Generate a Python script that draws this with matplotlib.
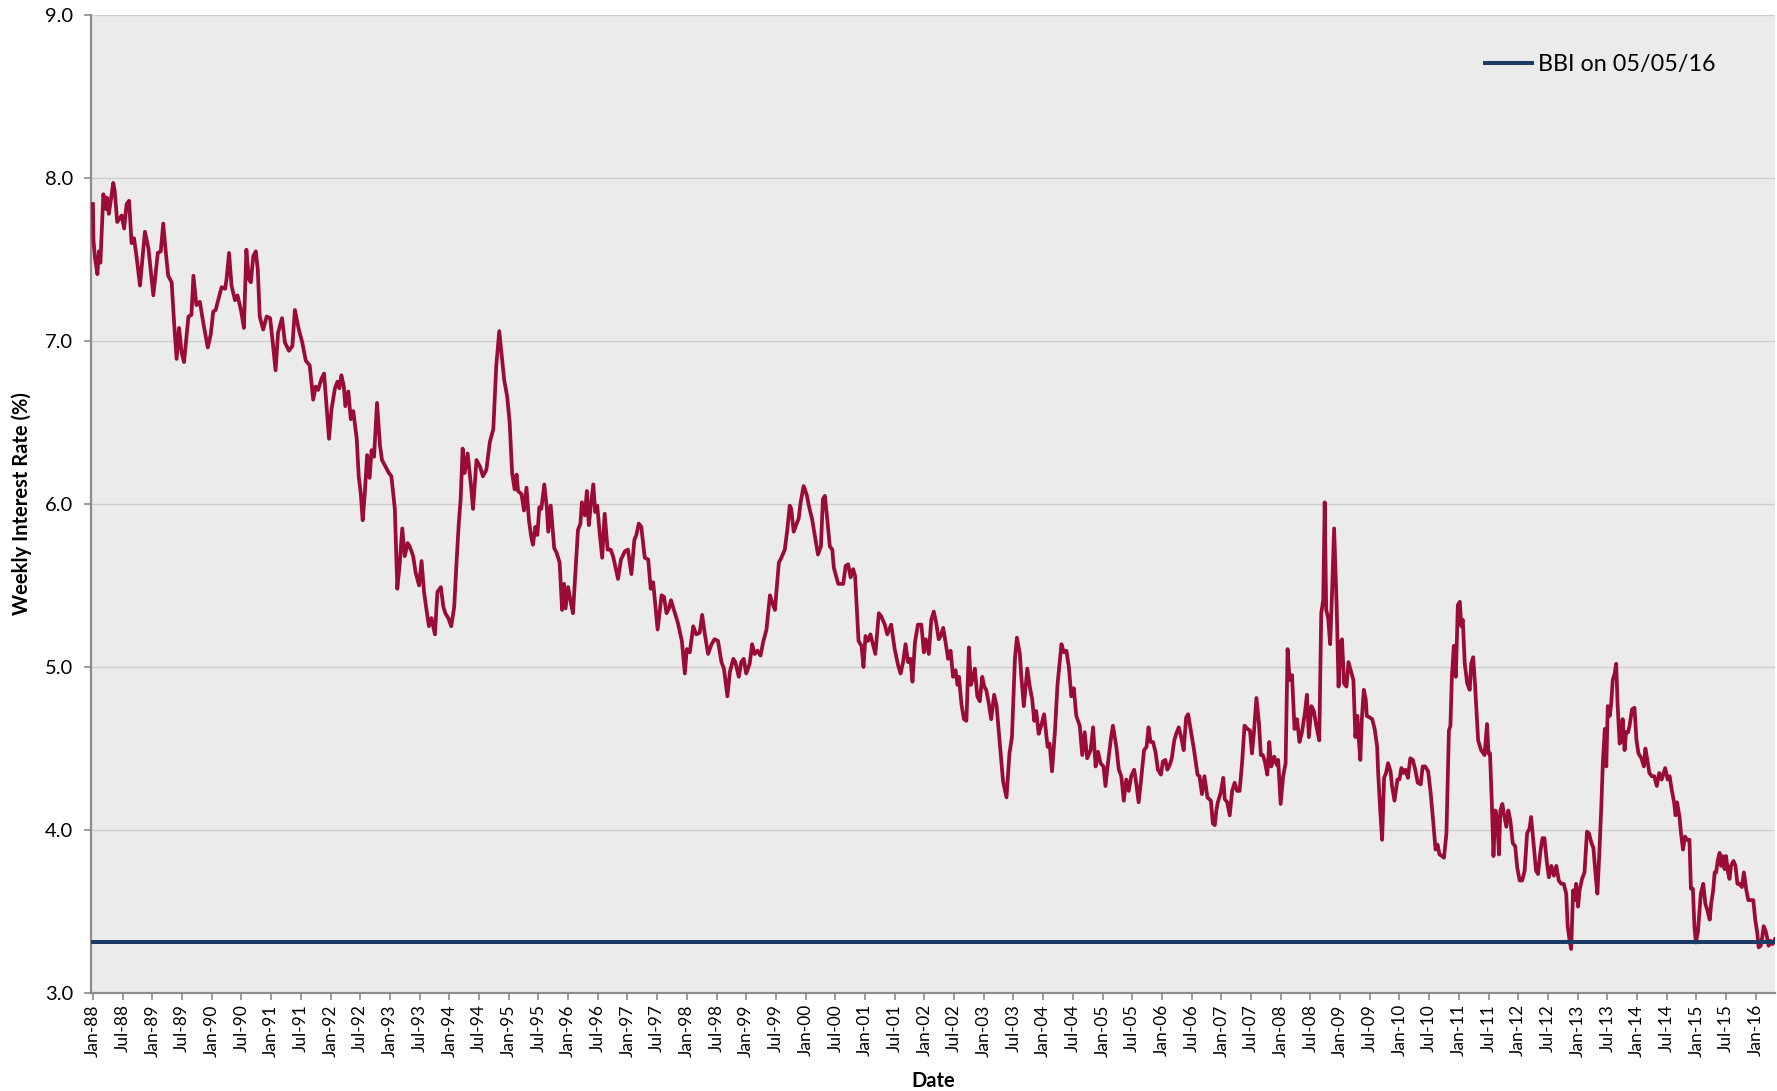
import numpy as np
import matplotlib
matplotlib.use('Agg')
import matplotlib.pyplot as plt

# weekly interest rate as (months since Jan-88, rate %)
rates_1988_1991 = [
	(0.0, 7.84), (0.1, 7.62), (0.4, 7.51), (0.9, 7.41), (1.2, 7.55), (1.5, 7.48), (2.1, 7.90),
	(2.6, 7.81), (2.8, 7.88), (3.2, 7.78), (3.6, 7.86), (4.1, 7.97), (4.4, 7.92), (4.9, 7.73),
	(5.8, 7.77), (6.3, 7.69), (6.8, 7.84), (7.3, 7.86), (7.8, 7.60), (8.3, 7.63), (8.8, 7.52),
	(9.5, 7.34), (10.5, 7.67), (11.2, 7.57), (12.2, 7.28), (13.1, 7.54), (13.7, 7.55), (14.2, 7.72),
	(14.7, 7.55), (15.2, 7.40), (15.9, 7.36), (16.4, 7.11), (16.9, 6.89), (17.4, 7.08), (17.9, 6.93),
	(18.4, 6.87), (19.3, 7.15), (19.9, 7.16), (20.3, 7.40), (20.9, 7.22), (21.6, 7.24), (22.3, 7.11),
	(23.2, 6.96), (23.8, 7.04), (24.3, 7.18), (24.8, 7.19), (25.3, 7.25), (26.0, 7.33), (26.7, 7.32),
	(27.0, 7.38), (27.5, 7.54), (28.0, 7.34), (28.7, 7.25), (29.2, 7.28), (29.9, 7.19), (30.5, 7.08),
	(31.0, 7.56), (31.5, 7.38), (31.9, 7.36), (32.4, 7.52), (32.9, 7.55), (33.3, 7.44), (33.7, 7.15),
	(34.4, 7.07), (35.1, 7.15), (35.8, 7.14), (36.4, 6.97), (36.9, 6.82), (37.4, 7.05), (38.2, 7.14),
	(38.8, 6.99), (39.6, 6.94), (40.3, 6.97), (40.8, 7.19), (41.6, 7.07), (42.3, 6.99), (43.0, 6.88),
	(43.8, 6.85),
]
rates_1991_1995 = [
	(44.5, 6.64), (45.0, 6.72), (45.5, 6.70), (46.2, 6.77), (46.7, 6.80), (47.2, 6.60), (47.7, 6.40),
	(48.2, 6.58), (48.9, 6.71), (49.4, 6.75), (49.8, 6.71), (50.2, 6.79), (50.7, 6.72), (51.0, 6.60),
	(51.6, 6.69), (52.1, 6.52), (52.6, 6.57), (53.3, 6.40), (53.7, 6.17), (54.1, 6.07), (54.5, 5.90),
	(54.9, 6.05), (55.4, 6.30), (55.9, 6.16), (56.3, 6.33), (56.8, 6.29), (57.4, 6.62), (58.0, 6.36),
	(58.4, 6.27), (59.1, 6.23), (59.8, 6.19), (60.3, 6.17), (61.0, 5.97), (61.5, 5.48), (62.0, 5.64),
	(62.5, 5.85), (63.0, 5.68), (63.6, 5.76), (64.0, 5.74), (64.7, 5.68), (65.2, 5.58), (65.9, 5.50),
	(66.4, 5.65), (66.9, 5.46), (67.4, 5.35), (67.9, 5.25), (68.4, 5.30), (69.1, 5.20), (69.6, 5.46),
	(70.3, 5.49), (70.8, 5.37), (71.2, 5.33), (71.8, 5.30), (72.4, 5.25), (73.0, 5.37), (73.5, 5.66),
	(73.9, 5.87), (74.3, 6.03), (74.7, 6.34), (75.1, 6.19), (75.7, 6.31), (76.4, 6.11), (76.8, 5.97),
	(77.5, 6.27), (78.2, 6.23), (78.8, 6.17), (79.5, 6.21), (80.2, 6.38), (80.9, 6.46), (81.5, 6.85),
	(82.1, 7.06), (82.6, 6.91), (83.1, 6.76), (83.7, 6.66), (84.2, 6.50), (84.7, 6.19), (85.2, 6.09),
]
rates_1995_1998 = [
	(85.6, 6.18), (85.9, 6.08), (86.6, 6.06), (87.1, 5.96), (87.6, 6.10), (88.1, 5.90), (88.5, 5.81),
	(88.9, 5.75), (89.4, 5.86), (89.8, 5.81), (90.2, 5.98), (90.6, 5.97), (91.2, 6.12), (91.7, 5.98),
	(92.0, 5.83), (92.5, 5.99), (93.2, 5.73), (93.7, 5.70), (94.3, 5.64), (94.8, 5.35), (95.2, 5.51),
	(95.5, 5.36), (96.0, 5.49), (96.6, 5.39), (97.0, 5.33), (97.5, 5.58), (98.0, 5.84), (98.5, 5.88),
	(98.8, 6.01), (99.4, 5.93), (99.8, 6.08), (100.2, 5.87), (100.6, 5.99), (101.1, 6.12), (101.5, 5.95),
	(101.9, 5.99), (102.4, 5.82), (102.9, 5.67), (103.4, 5.94), (104.0, 5.72), (104.6, 5.72), (105.1, 5.68),
	(106.1, 5.54), (106.7, 5.66), (107.5, 5.71), (108.1, 5.72), (108.8, 5.57), (109.4, 5.78), (109.8, 5.81),
	(110.3, 5.88), (110.8, 5.86), (111.5, 5.67), (112.2, 5.66), (112.7, 5.48), (113.2, 5.52), (114.1, 5.23),
	(114.9, 5.44), (115.4, 5.43), (115.9, 5.33), (116.4, 5.36), (116.8, 5.41), (117.4, 5.35), (118.2, 5.27),
	(119.0, 5.16), (119.6, 4.96), (120.0, 5.11), (120.6, 5.09), (121.3, 5.25), (121.9, 5.20), (122.6, 5.21),
	(123.1, 5.32), (123.6, 5.21), (124.3, 5.08), (125.0, 5.14), (125.6, 5.17),
]
rates_1998_2002 = [
	(126.3, 5.16), (127.0, 5.03), (127.5, 4.99), (128.2, 4.82), (128.7, 4.97), (129.4, 5.05), (129.8, 5.03),
	(130.5, 4.94), (131.0, 5.03), (131.5, 5.05), (132.0, 4.96), (132.7, 5.02), (133.2, 5.14), (133.7, 5.08),
	(134.3, 5.10), (134.9, 5.07), (135.4, 5.15), (136.1, 5.23), (136.8, 5.44), (137.2, 5.40), (137.8, 5.35),
	(138.6, 5.64), (139.1, 5.67), (139.8, 5.72), (140.3, 5.84), (140.8, 5.99), (141.1, 5.97), (141.6, 5.83),
	(142.2, 5.88), (142.6, 5.91), (143.0, 6.01), (143.6, 6.11), (144.2, 6.06), (144.8, 5.97), (145.3, 5.91),
	(145.9, 5.80), (146.5, 5.69), (147.1, 5.74), (147.5, 6.03), (147.9, 6.05), (148.4, 5.90), (148.9, 5.74),
	(149.4, 5.72), (149.7, 5.61), (150.6, 5.51), (151.6, 5.51), (152.1, 5.62), (152.6, 5.63), (153.1, 5.55),
	(153.6, 5.60), (154.0, 5.56), (154.7, 5.16), (155.3, 5.13), (155.7, 5.00), (156.1, 5.19), (156.6, 5.16),
	(157.1, 5.20), (157.6, 5.14), (158.1, 5.08), (158.8, 5.33), (159.3, 5.31), (160.0, 5.26), (160.5, 5.20),
	(161.3, 5.26), (162.0, 5.11), (162.7, 5.01), (163.2, 4.96), (163.7, 5.03), (164.2, 5.14), (164.7, 5.03),
	(165.2, 5.05), (165.6, 4.91), (166.1, 5.15), (166.7, 5.26), (167.4, 5.26), (167.9, 5.09), (168.3, 5.17),
	(168.9, 5.08), (169.4, 5.29), (169.9, 5.34),
]
rates_2002_2005 = [
	(170.4, 5.27), (170.9, 5.17), (171.3, 5.19), (171.8, 5.24), (172.3, 5.15), (172.8, 5.05), (173.3, 5.10),
	(173.8, 4.94), (174.3, 4.98), (174.7, 4.89), (175.0, 4.94), (175.5, 4.77), (176.0, 4.68), (176.5, 4.67),
	(177.0, 5.12), (177.4, 4.89), (177.8, 4.93), (178.2, 4.99), (178.7, 4.82), (179.2, 4.79), (179.7, 4.94),
	(180.1, 4.88), (180.5, 4.86), (181.0, 4.78), (181.5, 4.68), (182.1, 4.83), (182.6, 4.76), (183.2, 4.55),
	(183.9, 4.30), (184.6, 4.20), (185.2, 4.47), (185.7, 4.57), (186.3, 5.05), (186.7, 5.18), (187.3, 5.08),
	(187.6, 4.94), (188.1, 4.76), (188.8, 4.99), (189.3, 4.88), (189.8, 4.80), (190.2, 4.67), (190.6, 4.73),
	(191.1, 4.59), (191.6, 4.64), (192.2, 4.71), (192.9, 4.51), (193.3, 4.53), (193.8, 4.36), (194.4, 4.61),
	(194.9, 4.89), (195.7, 5.14), (196.2, 5.09), (196.7, 5.10), (197.2, 5.00), (197.7, 4.82), (198.2, 4.87),
	(198.7, 4.70), (199.4, 4.64), (199.9, 4.46), (200.4, 4.60), (200.9, 4.44), (201.6, 4.49), (202.1, 4.63),
	(202.6, 4.39), (203.1, 4.48), (203.6, 4.41), (204.2, 4.39), (204.6, 4.27), (205.1, 4.41), (205.7, 4.56),
	(206.1, 4.64), (206.8, 4.51), (207.3, 4.37), (207.8, 4.33), (208.3, 4.18), (208.8, 4.31), (209.3, 4.24),
	(209.8, 4.33), (210.4, 4.37), (210.8, 4.29), (211.3, 4.17), (211.8, 4.31), (212.4, 4.49),
]
rates_2005_2009 = [
	(212.9, 4.51), (213.3, 4.63), (213.7, 4.54), (214.2, 4.54), (214.7, 4.48), (215.2, 4.37), (215.8, 4.34),
	(216.2, 4.42), (216.7, 4.43), (217.1, 4.37), (217.6, 4.40), (218.0, 4.44), (218.5, 4.55), (218.9, 4.59),
	(219.4, 4.63), (219.9, 4.57), (220.4, 4.49), (220.9, 4.69), (221.3, 4.71), (221.9, 4.60), (222.5, 4.49),
	(223.2, 4.34), (223.6, 4.33), (224.1, 4.22), (224.6, 4.33), (225.2, 4.20), (225.9, 4.18), (226.3, 4.04),
	(226.7, 4.03), (227.0, 4.12), (227.3, 4.17), (227.9, 4.23), (228.4, 4.32), (228.7, 4.19), (229.2, 4.17),
	(229.7, 4.09), (230.2, 4.24), (230.7, 4.29), (231.2, 4.24), (231.7, 4.24), (232.2, 4.41), (232.7, 4.64),
	(233.3, 4.62), (233.8, 4.61), (234.2, 4.47), (234.6, 4.60), (235.1, 4.81), (235.6, 4.66), (236.0, 4.46),
	(236.4, 4.46), (236.8, 4.42), (237.3, 4.34), (237.7, 4.54), (238.1, 4.39), (238.7, 4.45), (239.2, 4.40),
	(239.5, 4.43), (240.0, 4.16), (240.5, 4.33), (241.0, 4.41), (241.4, 5.11), (241.8, 4.92), (242.3, 4.95),
	(242.8, 4.62), (243.3, 4.68), (243.8, 4.54), (244.3, 4.60), (244.9, 4.72), (245.3, 4.83), (245.7, 4.57),
	(246.2, 4.76), (246.7, 4.73), (247.2, 4.64), (247.8, 4.55), (248.2, 5.33), (248.6, 5.41), (248.9, 6.01),
	(249.2, 5.35), (249.6, 5.30), (250.0, 5.14), (250.4, 5.47), (250.8, 5.85), (251.3, 5.39), (251.7, 4.88),
	(252.1, 5.15), (252.4, 5.17), (252.8, 4.90), (253.3, 4.88), (253.7, 5.03),
]
rates_2009_2012 = [
	(254.7, 4.92), (255.1, 4.57), (255.5, 4.70), (255.8, 4.55), (256.1, 4.43), (256.4, 4.68), (256.8, 4.86),
	(257.2, 4.80), (257.4, 4.70), (258.0, 4.69), (258.5, 4.68), (259.0, 4.62), (259.5, 4.51), (259.7, 4.35),
	(260.2, 4.08), (260.5, 3.94), (260.9, 4.32), (261.3, 4.35), (261.7, 4.41), (262.2, 4.36), (262.5, 4.27),
	(263.0, 4.18), (263.6, 4.31), (264.0, 4.31), (264.4, 4.38), (264.8, 4.35), (265.2, 4.37), (265.7, 4.32),
	(266.2, 4.44), (266.7, 4.43), (267.2, 4.37), (267.7, 4.29), (268.3, 4.28), (268.7, 4.39), (269.2, 4.39),
	(269.8, 4.36), (270.3, 4.23), (270.8, 4.06), (271.3, 3.88), (271.7, 3.91), (272.1, 3.85), (272.6, 3.84),
	(273.0, 3.83), (273.5, 3.98), (274.0, 4.61), (274.3, 4.64), (274.6, 4.94), (275.0, 5.13), (275.4, 4.94),
	(275.8, 5.38), (276.2, 5.40), (276.5, 5.25), (276.8, 5.29), (277.2, 5.02), (277.7, 4.90), (278.2, 4.86),
	(278.5, 5.02), (278.9, 5.06), (279.3, 4.88), (279.9, 4.55), (280.5, 4.49), (281.2, 4.46), (281.7, 4.65),
	(282.0, 4.47), (282.3, 4.47), (282.7, 4.14), (283.0, 3.84), (283.4, 4.12), (283.8, 4.06), (284.1, 3.85),
	(284.4, 4.12), (284.8, 4.16), (285.1, 4.10), (285.6, 4.02), (286.0, 4.12), (286.4, 4.06), (286.9, 3.92),
	(287.4, 3.90), (287.8, 3.77), (288.3, 3.69), (288.8, 3.69), (289.3, 3.75), (289.8, 3.98), (290.3, 4.01),
	(290.6, 4.08), (291.1, 3.92), (291.6, 3.75), (292.0, 3.73), (292.5, 3.87), (292.9, 3.95), (293.3, 3.95),
	(293.8, 3.80), (294.2, 3.71), (294.7, 3.78), (295.2, 3.72), (295.7, 3.78), (296.2, 3.69), (296.7, 3.67),
]
rates_2012_2016 = [
	(297.2, 3.67), (297.7, 3.61), (298.0, 3.41), (298.4, 3.32), (298.7, 3.27), (299.1, 3.63), (299.4, 3.57),
	(299.7, 3.67), (300.1, 3.53), (300.4, 3.63), (300.9, 3.70), (301.4, 3.74), (301.9, 3.99), (302.3, 3.98),
	(302.8, 3.92), (303.2, 3.89), (303.6, 3.74), (304.0, 3.61), (304.4, 3.86), (304.8, 4.15), (305.1, 4.41),
	(305.5, 4.62), (305.8, 4.39), (306.1, 4.76), (306.5, 4.70), (306.8, 4.78), (307.1, 4.92), (307.5, 4.96),
	(307.8, 5.02), (308.1, 4.76), (308.5, 4.53), (308.8, 4.55), (309.1, 4.68), (309.5, 4.49), (309.8, 4.60),
	(310.2, 4.60), (310.5, 4.64), (311.0, 4.74), (311.5, 4.75), (311.9, 4.55), (312.3, 4.47), (312.9, 4.44),
	(313.4, 4.39), (313.7, 4.50), (314.1, 4.43), (314.5, 4.35), (315.0, 4.33), (315.5, 4.33), (316.0, 4.27),
	(316.5, 4.35), (317.0, 4.31), (317.4, 4.35), (317.7, 4.38), (318.2, 4.31), (318.6, 4.33), (319.0, 4.25),
	(319.5, 4.17), (319.8, 4.09), (320.1, 4.17), (320.6, 4.08), (320.9, 3.98), (321.3, 3.88), (321.7, 3.96),
	(322.1, 3.94), (322.6, 3.94), (322.9, 3.64), (323.3, 3.64), (323.6, 3.41), (323.9, 3.31), (324.3, 3.37),
	(324.6, 3.49), (324.9, 3.61), (325.4, 3.67), (325.8, 3.55), (326.2, 3.51), (326.7, 3.45), (327.0, 3.55),
	(327.4, 3.63), (327.7, 3.74), (328.0, 3.74), (328.3, 3.81), (328.7, 3.86), (329.0, 3.78), (329.4, 3.84),
	(329.7, 3.76), (330.0, 3.84), (330.4, 3.74), (330.7, 3.70), (331.0, 3.78), (331.5, 3.81), (331.9, 3.78),
	(332.3, 3.67), (332.7, 3.67), (333.2, 3.65), (333.6, 3.74), (334.1, 3.63), (334.5, 3.57), (335.0, 3.57),
	(335.5, 3.57), (335.9, 3.45), (336.3, 3.37), (336.6, 3.28), (337.0, 3.29), (337.3, 3.34), (337.6, 3.41),
	(338.0, 3.38), (338.3, 3.34), (338.6, 3.29), (339.0, 3.32), (339.4, 3.30), (339.9, 3.33),
]

bbi_rate = 3.315
bbi_label = 'BBI on 05/05/16'

tick_years = list(range(1988, 2017))
tick_labels = []
for yr in tick_years:
	tick_labels.append('Jan-%02d' % (yr % 100))
	if yr < 2016:
		tick_labels.append('Jul-%02d' % (yr % 100))

RED = '#9a0b35'
NAVY = '#1c3a64'


def get_series():
	pts = (rates_1988_1991 + rates_1991_1995 + rates_1995_1998 + rates_1998_2002 +
		rates_2002_2005 + rates_2005_2009 + rates_2009_2012 + rates_2012_2016)
	pts = np.array(pts)
	return pts[:, 0], pts[:, 1]


def main():
	plt.rcParams['font.family'] = ['Lato', 'DejaVu Sans']

	months, rates = get_series()

	fig = plt.figure(figsize=(17.77, 10.91), dpi=100)
	ax = fig.add_axes([0.0512, 0.0898, 0.9477, 0.8965])
	ax.set_facecolor('#ebebeb')

	ax.plot(months, rates, color=RED, lw=2.7, solid_joinstyle='round', zorder=3)
	ax.axhline(bbi_rate, color=NAVY, lw=2.9, zorder=4, label=bbi_label)

	ax.set_xlim(-0.4, 339.9)
	ax.set_ylim(3.0, 9.0)
	ax.set_yticks(np.arange(3.0, 9.01, 1.0))
	ax.set_yticklabels(['%.1f' % v for v in np.arange(3.0, 9.01, 1.0)])
	ax.set_xticks(np.arange(len(tick_labels)) * 6)
	ax.set_xticklabels(tick_labels, rotation=90)

	# light gridlines, only horizontal
	ax.grid(axis='y', color='#cdcdcd', lw=1.0, zorder=1)
	ax.set_axisbelow(True)

	for s in ['top', 'right']:
		ax.spines[s].set_visible(False)
	for s in ['left', 'bottom']:
		ax.spines[s].set_color('#8c8c8c')
		ax.spines[s].set_linewidth(1.6)

	ax.tick_params(axis='y', length=5, width=1.2, color='#8c8c8c', pad=8, labelsize=14.5)
	ax.tick_params(axis='x', length=5, width=1.2, color='#8c8c8c', pad=3, labelsize=12.5)

	ax.set_ylabel('Weekly Interest Rate (%)', fontsize=14.5, fontweight='bold', labelpad=9)
	ax.set_xlabel('Date', fontsize=14.5, fontweight='bold', labelpad=10)

	ax.legend(loc='center left', bbox_to_anchor=(0.828, 0.949), frameon=False,
		fontsize=16.8, handlelength=2.0, handletextpad=0.25, borderpad=0, borderaxespad=0)

	fig.savefig('out.png', dpi=100, facecolor='white')


if __name__ == '__main__':
	main()
